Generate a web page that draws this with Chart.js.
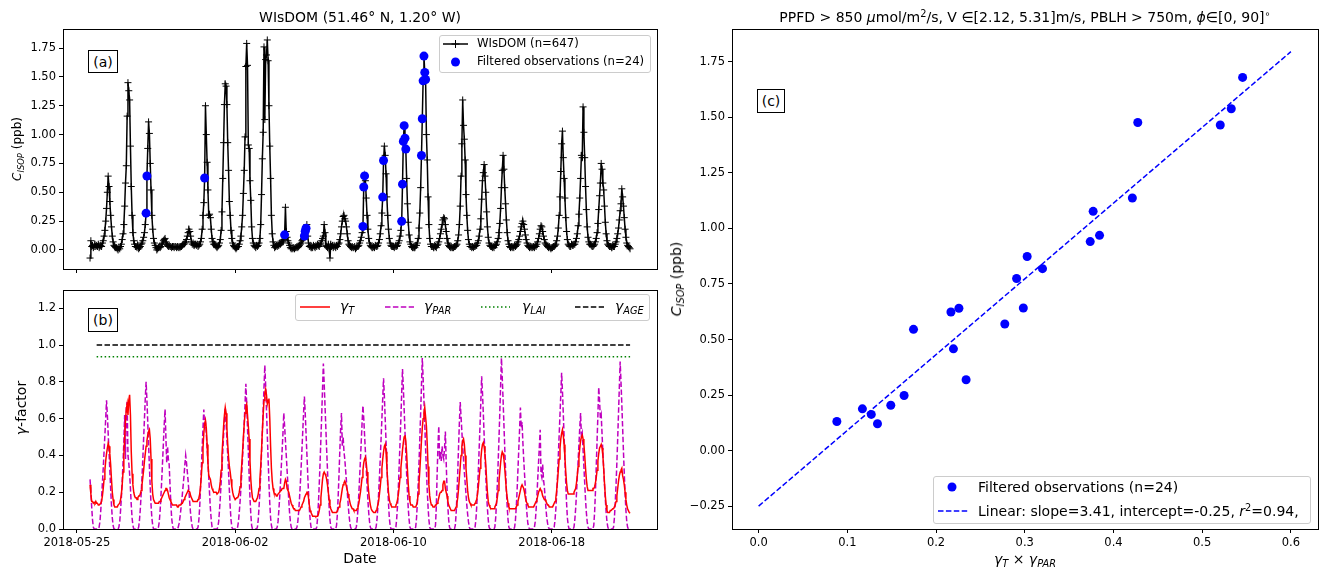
<!DOCTYPE html>
<html>
<head>
<meta charset="utf-8">
<script src="https://cdn.jsdelivr.net/npm/chart.js@4.4.1/dist/chart.umd.min.js"></script>
<style>
  body { margin:0; width:1322px; height:568px; background:#fff; position:relative; overflow:hidden; font-family:"DejaVu Sans", sans-serif; color:#000; }
  canvas { position:absolute; }
  .t { position:absolute; white-space:nowrap; line-height:1; }
  .c { transform:translate(-50%,-50%); }
  .r { transform:translate(-50%,-50%) rotate(-90deg); }
  .t sub { font-size:70%; vertical-align:-0.3em; line-height:0; font-style:italic; }
  .t sup { font-size:70%; vertical-align:0.5em; line-height:0; }
  .box { position:absolute; border:1px solid #000; background:#fff; font-size:14px; display:flex; align-items:center; justify-content:center; box-sizing:border-box; }
  .leg { position:absolute; border:1px solid #ccc; border-radius:3px; background:rgba(255,255,255,0.8); box-sizing:border-box; }
  svg { position:absolute; }
</style>
</head>
<body>
<canvas id="ca" width="670" height="280" style="left:0;top:0"></canvas>
<canvas id="cb" width="670" height="288" style="left:0;top:280px"></canvas>
<canvas id="cc" width="652" height="568" style="left:670px;top:0"></canvas>

<div class="t c" style="left:360px;top:17px;font-size:14px">WIsDOM (51.46° N, 1.20° W)</div>
<div class="t c" style="left:1025px;top:17px;font-size:14px">PPFD &gt; 850 <i>μ</i>mol/m<sup>2</sup>/s, V ∈[2.12, 5.31]m/s, PBLH &gt; 750m, <i>ϕ</i>∈[0, 90]<sup>∘</sup></div>

<div class="t r" style="left:17px;top:149px;font-size:12px"><i>C</i><sub>ISOP</sub> (ppb)</div>
<div class="t r" style="left:21px;top:408px;font-size:14px"><i>γ</i>-factor</div>
<div class="t c" style="left:360px;top:558px;font-size:14px">Date</div>
<div class="t r" style="left:676px;top:279px;font-size:14px"><i>C</i><sub>ISOP</sub> (ppb)</div>
<div class="t c" style="left:1025px;top:559px;font-size:14px"><i>γ</i><sub>T</sub> × <i>γ</i><sub>PAR</sub></div>

<div class="box" style="left:88px;top:50px;width:30px;height:23px">(a)</div>
<div class="box" style="left:88px;top:308px;width:30px;height:24px">(b)</div>
<div class="box" style="left:757px;top:89px;width:28px;height:24px">(c)</div>

<!-- legend (a) -->
<div class="leg" style="left:439px;top:35px;width:212px;height:38px"></div>
<svg style="left:441px;top:37px" width="30" height="14">
  <line x1="2" y1="7" x2="27" y2="7" stroke="#000" stroke-width="1.5"/>
  <line x1="14.5" y1="3" x2="14.5" y2="11" stroke="#000"/>
  <line x1="10.5" y1="7" x2="18.5" y2="7" stroke="#000"/>
</svg>
<div class="t" style="left:477px;top:38px;font-size:11.7px">WIsDOM (n=647)</div>
<svg style="left:441px;top:55px" width="30" height="14"><circle cx="14.5" cy="7" r="4.5" fill="#0000ff"/></svg>
<div class="t" style="left:477px;top:56px;font-size:11.7px">Filtered observations (n=24)</div>

<!-- legend (b) -->
<div class="leg" style="left:295px;top:294px;width:355px;height:27px"></div>
<svg style="left:298px;top:300px" width="34" height="14"><line x1="2" y1="7" x2="32" y2="7" stroke="#ff0000" stroke-width="1.5"/></svg>
<div class="t" style="left:340px;top:299px;font-size:14px"><i>γ</i><sub>T</sub></div>
<svg style="left:383px;top:300px" width="34" height="14"><line x1="2" y1="7" x2="31" y2="7" stroke="#bf00bf" stroke-width="1.5" stroke-dasharray="5.5 2.4"/></svg>
<div class="t" style="left:424px;top:299px;font-size:14px"><i>γ</i><sub>PAR</sub></div>
<svg style="left:479px;top:300px" width="34" height="14"><line x1="2" y1="7" x2="31" y2="7" stroke="#008000" stroke-width="1.5" stroke-dasharray="1.5 2.5"/></svg>
<div class="t" style="left:522px;top:299px;font-size:14px"><i>γ</i><sub>LAI</sub></div>
<svg style="left:573px;top:300px" width="34" height="14"><line x1="2" y1="7" x2="31" y2="7" stroke="#000" stroke-width="1.5" stroke-dasharray="5.5 2.4"/></svg>
<div class="t" style="left:615px;top:299px;font-size:14px"><i>γ</i><sub>AGE</sub></div>

<!-- legend (c) -->
<div class="leg" style="left:933px;top:476px;width:378px;height:48px"></div>
<svg style="left:938px;top:480px" width="34" height="14"><circle cx="14" cy="7" r="4.5" fill="#0000ff"/></svg>
<div class="t" style="left:978px;top:480px;font-size:14px">Filtered observations (n=24)</div>
<svg style="left:936px;top:504px" width="34" height="14"><line x1="2" y1="7" x2="32" y2="7" stroke="#0000ff" stroke-width="1.5" stroke-dasharray="5.5 2.4"/></svg>
<div class="t" style="left:978px;top:504px;font-size:14px">Linear: slope=3.41, intercept=-0.25, <i>r</i><sup>2</sup>=0.94,</div>

<script>
// hourly rows, one per day; first row starts 2018-05-25 16:00, the rest at 00:00
const startHour = 16;

const cIsopRows = [
  [-0.07,0.08,0.03,0.04,0.02,0.03,0.05,0.03],
  [0.04,0.03,0.05,0.02,0.03,0.04,0.03,0.06,0.08,0.12,0.17,0.25,0.36,0.50,0.64,0.55,0.42,0.30,0.20,0.12,0.07,0.04,0.03,0.02],
  [0.02,0.01,0.00,0.02,0.01,0.03,0.05,0.09,0.14,0.22,0.38,0.58,0.73,1.16,1.45,1.38,1.30,0.90,0.55,0.30,0.15,0.08,0.05,0.03],
  [0.03,0.02,0.04,0.01,0.02,0.03,0.05,0.06,0.08,0.11,0.15,0.22,0.319,0.641,0.88,1.11,1.01,0.75,0.52,0.30,0.18,0.10,0.06,0.04],
  [0.02,0.00,0.01,0.02,0.03,0.02,0.03,0.05,0.06,0.08,0.09,0.10,0.07,0.05,0.04,0.03,0.04,0.03,0.03,0.02,0.03,0.03,0.02,0.03],
  [0.03,0.02,0.03,0.02,0.03,0.02,0.03,0.03,0.04,0.05,0.05,0.06,0.07,0.09,0.12,0.15,0.18,0.16,0.12,0.07,0.05,0.06,0.04,0.05],
  [0.05,0.04,0.05,0.03,0.04,0.05,0.07,0.10,0.18,0.30,0.41,0.624,1.25,1.00,0.76,0.52,0.30,0.31,0.28,0.18,0.10,0.07,0.05,0.05],
  [0.04,0.03,0.02,0.03,0.04,0.06,0.09,0.17,0.33,0.62,0.93,1.26,1.44,1.42,1.26,0.93,0.69,0.42,0.30,0.17,0.10,0.06,0.04,0.03],
  [0.02,0.01,0.02,0.03,0.03,0.05,0.08,0.12,0.20,0.30,0.49,0.69,0.98,1.59,1.79,1.60,0.91,0.88,0.60,0.43,0.20,0.10,0.06,0.04],
  [0.03,0.02,0.04,0.03,0.04,0.06,0.10,0.22,0.48,0.79,1.02,1.76,1.13,1.65,1.69,1.82,1.64,1.25,0.90,0.62,0.30,0.14,0.07,0.04],
  [0.02,0.03,0.04,0.03,0.05,0.04,0.06,0.05,0.06,0.08,0.07,0.09,0.131,0.37,0.16,0.11,0.08,0.06,0.04,0.02,0.01,0.02,0.01,0.02],
  [0.01,0.02,0.02,0.03,0.02,0.03,0.04,0.05,0.06,0.08,0.09,0.10,0.121,0.163,0.188,0.22,0.12,0.06,0.03,0.04,0.02,0.03,0.02,0.04],
  [0.03,0.02,0.04,0.03,0.05,0.04,0.03,0.05,0.06,0.08,0.10,0.12,0.22,0.15,0.04,0.03,0.02,0.05,0.01,-0.07,0.05,0.03,0.04,0.02],
  [0.04,0.03,0.02,0.04,0.03,0.05,0.06,0.09,0.14,0.20,0.25,0.29,0.30,0.27,0.25,0.20,0.14,0.08,0.05,0.04,0.03,0.02,0.03,0.02],
  [0.02,0.03,0.01,0.02,0.03,0.03,0.04,0.06,0.08,0.11,0.15,0.204,0.546,0.642,0.60,0.45,0.30,0.18,0.10,0.06,0.04,0.03,0.02,0.02],
  [0.03,0.02,0.04,0.03,0.03,0.04,0.06,0.09,0.14,0.21,0.32,0.458,0.775,0.90,0.82,0.66,0.46,0.30,0.18,0.10,0.06,0.04,0.03,0.03],
  [0.03,0.02,0.03,0.04,0.03,0.04,0.06,0.08,0.12,0.17,0.248,0.570,0.941,1.077,0.969,0.874,0.62,0.40,0.24,0.13,0.07,0.05,0.03,0.02],
  [0.02,0.03,0.02,0.04,0.04,0.06,0.10,0.19,0.32,0.54,0.819,1.137,1.466,1.680,1.539,1.477,1.00,0.78,0.46,0.22,0.10,0.05,0.03,0.03],
  [0.03,0.02,0.04,0.03,0.02,0.04,0.05,0.07,0.10,0.14,0.18,0.22,0.26,0.28,0.27,0.22,0.16,0.10,0.06,0.04,0.03,0.02,0.03,0.02],
  [0.02,0.02,0.03,0.03,0.04,0.05,0.08,0.13,0.22,0.38,0.64,0.92,1.30,1.08,0.96,0.78,0.48,0.30,0.17,0.09,0.05,0.03,0.03,0.02],
  [0.03,0.02,0.03,0.03,0.04,0.04,0.06,0.08,0.12,0.18,0.27,0.44,0.60,0.67,0.74,0.64,0.50,0.33,0.20,0.11,0.06,0.04,0.03,0.03],
  [0.02,0.03,0.02,0.04,0.04,0.05,0.07,0.10,0.15,0.23,0.36,0.54,0.69,0.82,0.70,0.54,0.40,0.26,0.15,0.08,0.05,0.03,0.02,0.03],
  [0.02,0.03,0.02,0.04,0.03,0.04,0.05,0.07,0.09,0.12,0.16,0.20,0.23,0.25,0.22,0.18,0.13,0.09,0.06,0.04,0.03,0.02,0.03,0.02],
  [0.03,0.02,0.03,0.02,0.04,0.03,0.05,0.07,0.10,0.14,0.18,0.21,0.20,0.16,0.12,0.09,0.06,0.05,0.04,0.03,0.02,0.03,0.02,0.01],
  [0.02,0.02,0.03,0.03,0.04,0.05,0.08,0.12,0.19,0.30,0.46,0.68,0.92,1.03,0.80,0.62,0.45,0.28,0.16,0.09,0.05,0.04,0.03,0.03],
  [0.05,0.04,0.04,0.05,0.05,0.07,0.10,0.14,0.21,0.31,0.45,0.62,0.82,0.80,1.24,1.02,0.80,0.55,0.35,0.20,0.11,0.07,0.05,0.05],
  [0.04,0.03,0.03,0.04,0.05,0.07,0.10,0.15,0.23,0.35,0.47,0.58,0.75,0.70,0.58,0.52,0.38,0.24,0.14,0.08,0.05,0.04,0.03,0.03],
  [0.03,0.02,0.04,0.03,0.03,0.05,0.07,0.10,0.14,0.19,0.26,0.34,0.40,0.53,0.46,0.38,0.28,0.18,0.11,0.06,0.04,0.03,0.02,0.01]
];

const gammaTRows = [
  [0.24,0.19,0.15,0.15,0.14,0.145,0.14,0.15],
  [0.14,0.14,0.13,0.13,0.13,0.14,0.15,0.18,0.22,0.27,0.32,0.37,0.41,0.44,0.466,0.45,0.41,0.35,0.27,0.20,0.16,0.13,0.12,0.12],
  [0.12,0.12,0.13,0.13,0.14,0.16,0.19,0.24,0.31,0.40,0.50,0.59,0.65,0.68,0.62,0.70,0.73,0.62,0.42,0.30,0.24,0.20,0.18,0.17],
  [0.17,0.16,0.17,0.18,0.18,0.19,0.21,0.24,0.28,0.32,0.37,0.41,0.45,0.48,0.51,0.53,0.54,0.49,0.38,0.26,0.19,0.16,0.15,0.14],
  [0.14,0.14,0.14,0.14,0.15,0.15,0.16,0.17,0.18,0.19,0.20,0.21,0.22,0.22,0.21,0.19,0.17,0.16,0.15,0.14,0.13,0.13,0.13,0.13],
  [0.13,0.13,0.12,0.12,0.13,0.13,0.13,0.14,0.14,0.15,0.16,0.17,0.18,0.19,0.20,0.21,0.21,0.20,0.18,0.17,0.16,0.15,0.15,0.15],
  [0.15,0.15,0.15,0.16,0.17,0.19,0.23,0.29,0.36,0.44,0.52,0.57,0.59,0.55,0.46,0.36,0.29,0.28,0.27,0.24,0.22,0.21,0.20,0.20],
  [0.20,0.20,0.19,0.19,0.20,0.22,0.26,0.32,0.40,0.48,0.56,0.62,0.66,0.63,0.55,0.46,0.39,0.34,0.31,0.27,0.23,0.20,0.18,0.17],
  [0.16,0.16,0.17,0.17,0.18,0.20,0.23,0.28,0.35,0.42,0.50,0.57,0.63,0.67,0.68,0.62,0.56,0.49,0.37,0.27,0.21,0.17,0.16,0.15],
  [0.15,0.15,0.16,0.17,0.19,0.22,0.27,0.34,0.43,0.53,0.62,0.70,0.74,0.76,0.73,0.68,0.70,0.71,0.60,0.45,0.33,0.26,0.22,0.20],
  [0.19,0.19,0.18,0.18,0.19,0.19,0.20,0.21,0.21,0.22,0.22,0.22,0.25,0.27,0.26,0.22,0.21,0.20,0.18,0.16,0.14,0.13,0.12,0.11],
  [0.11,0.10,0.10,0.10,0.10,0.10,0.10,0.11,0.12,0.13,0.14,0.15,0.17,0.18,0.19,0.20,0.20,0.17,0.13,0.10,0.09,0.08,0.07,0.07],
  [0.07,0.07,0.066,0.07,0.07,0.08,0.10,0.13,0.17,0.22,0.27,0.30,0.31,0.30,0.29,0.27,0.24,0.20,0.16,0.13,0.11,0.10,0.09,0.09],
  [0.09,0.09,0.09,0.09,0.10,0.11,0.12,0.14,0.16,0.19,0.22,0.24,0.25,0.26,0.25,0.23,0.21,0.19,0.17,0.15,0.13,0.12,0.11,0.11],
  [0.10,0.10,0.10,0.10,0.11,0.12,0.14,0.17,0.20,0.24,0.28,0.32,0.36,0.38,0.39,0.36,0.31,0.25,0.20,0.16,0.13,0.11,0.10,0.10],
  [0.09,0.09,0.09,0.10,0.11,0.13,0.15,0.19,0.23,0.28,0.33,0.38,0.42,0.45,0.46,0.42,0.34,0.26,0.20,0.16,0.14,0.13,0.12,0.12],
  [0.12,0.12,0.12,0.13,0.14,0.16,0.19,0.23,0.28,0.33,0.38,0.43,0.47,0.50,0.51,0.48,0.41,0.32,0.24,0.18,0.15,0.13,0.13,0.13],
  [0.12,0.12,0.12,0.12,0.13,0.15,0.19,0.25,0.32,0.40,0.48,0.55,0.60,0.63,0.66,0.61,0.56,0.46,0.34,0.24,0.18,0.15,0.13,0.13],
  [0.12,0.12,0.12,0.13,0.13,0.14,0.15,0.17,0.19,0.20,0.20,0.21,0.24,0.26,0.26,0.22,0.20,0.18,0.15,0.13,0.12,0.11,0.10,0.10],
  [0.10,0.10,0.10,0.11,0.12,0.14,0.17,0.22,0.28,0.34,0.40,0.45,0.48,0.49,0.46,0.40,0.33,0.27,0.21,0.17,0.15,0.14,0.13,0.13],
  [0.13,0.13,0.13,0.14,0.15,0.16,0.19,0.23,0.28,0.33,0.38,0.43,0.46,0.47,0.45,0.41,0.35,0.27,0.20,0.15,0.13,0.12,0.11,0.11],
  [0.11,0.11,0.11,0.12,0.13,0.14,0.17,0.21,0.26,0.31,0.36,0.40,0.42,0.41,0.38,0.33,0.27,0.21,0.17,0.14,0.12,0.11,0.11,0.11],
  [0.11,0.11,0.11,0.11,0.11,0.12,0.13,0.15,0.17,0.19,0.21,0.23,0.24,0.24,0.22,0.20,0.17,0.15,0.14,0.13,0.12,0.12,0.12,0.12],
  [0.12,0.12,0.12,0.13,0.14,0.15,0.16,0.18,0.20,0.21,0.22,0.21,0.20,0.18,0.17,0.16,0.16,0.15,0.14,0.13,0.13,0.12,0.12,0.12],
  [0.12,0.12,0.13,0.14,0.15,0.17,0.21,0.26,0.32,0.38,0.44,0.49,0.52,0.54,0.51,0.46,0.39,0.31,0.25,0.21,0.19,0.19,0.19,0.19],
  [0.19,0.19,0.19,0.20,0.21,0.22,0.25,0.29,0.34,0.39,0.44,0.48,0.50,0.51,0.49,0.46,0.40,0.33,0.27,0.23,0.21,0.21,0.21,0.21],
  [0.21,0.21,0.22,0.22,0.23,0.25,0.28,0.32,0.37,0.41,0.44,0.45,0.46,0.44,0.40,0.33,0.25,0.18,0.13,0.10,0.09,0.09,0.09,0.10],
  [0.10,0.10,0.11,0.11,0.12,0.13,0.15,0.18,0.22,0.26,0.29,0.31,0.32,0.33,0.29,0.27,0.24,0.20,0.16,0.13,0.11,0.10,0.09,0.085]
];

const gammaParRows = [
  [0.27,0.20,0.12,0.05,0.01,0,0,0],
  [0,0,0,0.01,0.04,0.10,0.17,0.25,0.33,0.42,0.51,0.60,0.70,0.62,0.52,0.42,0.32,0.22,0.13,0.06,0.02,0,0,0],
  [0,0,0,0.01,0.04,0.10,0.17,0.26,0.36,0.47,0.62,0.38,0.66,0.69,0.40,0.36,0.30,0.22,0.13,0.06,0.02,0,0,0],
  [0,0,0,0.01,0.05,0.11,0.19,0.28,0.38,0.49,0.60,0.71,0.80,0.70,0.58,0.46,0.34,0.23,0.13,0.06,0.02,0,0,0],
  [0,0,0,0.01,0.04,0.10,0.18,0.27,0.37,0.47,0.57,0.65,0.50,0.36,0.45,0.38,0.35,0.24,0.14,0.06,0.02,0,0,0],
  [0,0,0,0.01,0.03,0.06,0.10,0.14,0.19,0.24,0.29,0.35,0.40,0.36,0.31,0.26,0.20,0.14,0.08,0.04,0.01,0,0,0],
  [0,0,0,0.01,0.05,0.12,0.22,0.33,0.44,0.55,0.65,0.55,0.58,0.52,0.44,0.36,0.28,0.19,0.11,0.05,0.01,0,0,0],
  [0,0,0,0.01,0.04,0.10,0.17,0.25,0.33,0.42,0.51,0.59,0.66,0.58,0.49,0.40,0.31,0.21,0.12,0.05,0.01,0,0,0],
  [0,0,0,0.01,0.04,0.09,0.15,0.22,0.30,0.39,0.48,0.58,0.68,0.79,0.68,0.55,0.42,0.29,0.17,0.08,0.02,0,0,0],
  [0,0,0,0.01,0.05,0.12,0.20,0.30,0.41,0.53,0.65,0.77,0.89,0.78,0.65,0.51,0.38,0.25,0.14,0.06,0.02,0,0,0],
  [0,0,0,0.01,0.04,0.10,0.17,0.25,0.34,0.43,0.52,0.63,0.56,0.48,0.40,0.32,0.24,0.16,0.09,0.04,0.01,0,0,0],
  [0,0,0,0.01,0.04,0.09,0.16,0.24,0.33,0.43,0.53,0.63,0.72,0.63,0.52,0.41,0.30,0.20,0.11,0.05,0.01,0,0,0],
  [0,0,0,0.01,0.06,0.14,0.24,0.36,0.49,0.62,0.76,0.90,0.79,0.67,0.55,0.43,0.32,0.21,0.12,0.05,0.01,0,0,0],
  [0,0,0,0.02,0.08,0.18,0.30,0.43,0.55,0.63,0.45,0.50,0.42,0.38,0.32,0.26,0.20,0.14,0.08,0.04,0.01,0,0,0],
  [0,0,0,0.01,0.05,0.11,0.19,0.28,0.38,0.48,0.58,0.67,0.60,0.51,0.42,0.33,0.24,0.16,0.09,0.04,0.01,0,0,0],
  [0,0,0,0.01,0.05,0.11,0.19,0.28,0.38,0.49,0.60,0.71,0.82,0.72,0.60,0.48,0.36,0.24,0.14,0.06,0.02,0,0,0],
  [0,0,0,0.01,0.06,0.13,0.23,0.35,0.47,0.60,0.74,0.87,0.77,0.65,0.53,0.41,0.30,0.20,0.11,0.05,0.01,0,0,0],
  [0,0,0,0.01,0.06,0.14,0.24,0.36,0.49,0.63,0.78,0.93,0.82,0.70,0.57,0.44,0.32,0.21,0.12,0.05,0.01,0,0,0],
  [0,0,0,0.02,0.12,0.30,0.45,0.56,0.38,0.42,0.37,0.45,0.40,0.38,0.44,0.53,0.36,0.22,0.12,0.05,0.01,0,0,0],
  [0,0,0,0.02,0.08,0.18,0.31,0.45,0.58,0.69,0.61,0.53,0.45,0.38,0.31,0.25,0.19,0.13,0.08,0.04,0.01,0,0,0],
  [0,0,0,0.01,0.05,0.12,0.21,0.32,0.44,0.56,0.69,0.83,0.74,0.63,0.51,0.40,0.29,0.19,0.11,0.05,0.01,0,0,0],
  [0,0,0,0.01,0.06,0.14,0.24,0.36,0.49,0.63,0.78,0.93,0.82,0.70,0.57,0.44,0.32,0.21,0.12,0.05,0.01,0,0,0],
  [0,0,0,0.01,0.05,0.12,0.21,0.32,0.43,0.54,0.66,0.55,0.58,0.47,0.38,0.30,0.22,0.14,0.08,0.03,0.01,0,0,0],
  [0,0,0,0.01,0.04,0.10,0.18,0.27,0.36,0.45,0.54,0.30,0.28,0.35,0.27,0.23,0.17,0.11,0.06,0.03,0.01,0,0,0],
  [0,0,0,0.01,0.05,0.11,0.19,0.29,0.40,0.51,0.62,0.73,0.85,0.75,0.63,0.50,0.37,0.25,0.14,0.06,0.02,0,0,0],
  [0,0,0,0.01,0.05,0.11,0.19,0.28,0.37,0.46,0.55,0.63,0.50,0.52,0.43,0.34,0.25,0.16,0.09,0.04,0.01,0,0,0],
  [0,0,0,0.02,0.09,0.20,0.34,0.48,0.62,0.77,0.70,0.60,0.62,0.52,0.42,0.33,0.24,0.16,0.09,0.04,0.01,0,0,0],
  [0,0,0,0.01,0.06,0.14,0.24,0.36,0.49,0.63,0.77,0.91,0.80,0.68,0.55,0.42,0.30,0.19,0.10,0.04,0.01,0,0,0]
];

// constant factors, drawn from first to last day
const gammaLai = 0.937;
const gammaAge = 1.0;
const gammaConstX = [1.0, 27.96];

// filtered observations: hour since 2018-05-25 00:00, C_ISOP, gammaT*gammaPAR
const filtHour  = [84, 85, 155, 252, 276, 277, 278, 347, 348, 349, 371, 372, 394, 395, 396, 397, 398, 399, 418, 419, 420, 421, 422, 423];
const filtC     = [0.319, 0.641, 0.624, 0.131, 0.121, 0.163, 0.188, 0.204, 0.546, 0.642, 0.458, 0.775, 0.248, 0.570, 0.941, 1.077, 0.969, 0.874, 0.819, 1.137, 1.466, 1.680, 1.539, 1.477];
const filtGamma = [0.2339, 0.2258, 0.2168, 0.0882, 0.134, 0.127, 0.117, 0.149, 0.1746, 0.2984, 0.2196, 0.2908, 0.164, 0.2775, 0.3738, 0.3771, 0.3843, 0.3027, 0.320, 0.4213, 0.5204, 0.5456, 0.5328, 0.4274];

// linear fit line end points
const fitX = [0, 0.6];
const fitY = [-0.25, 1.796];

// ticks
const dateTickPos = [0, 8, 16, 24];
const dateTickLabels = ['2018-05-25', '2018-06-02', '2018-06-10', '2018-06-18'];
const aTicks = [0, 0.25, 0.5, 0.75, 1.0, 1.25, 1.5, 1.75];
const bTicks = [0, 0.2, 0.4, 0.6, 0.8, 1.0, 1.2];
const cXTicks = [0, 0.1, 0.2, 0.3, 0.4, 0.5, 0.6];
const cYTicks = [-0.25, 0, 0.25, 0.5, 0.75, 1.0, 1.25, 1.5, 1.75];

function toPoints(rows) {
  const pts = [];
  rows.forEach((row, d) => {
    const h0 = d === 0 ? startHour : 0;
    row.forEach((v, k) => pts.push({ x: d + (h0 + k) / 24, y: v }));
  });
  return pts;
}

Chart.defaults.font.family = 'DejaVu Sans';
Chart.defaults.color = '#000';

const frame = {
  id: 'frame',
  afterDraw(chart) {
    const a = chart.chartArea, c = chart.ctx;
    c.save();
    c.strokeStyle = '#000';
    c.lineWidth = 1;
    c.strokeRect(Math.round(a.left) + 0.5, Math.round(a.top) + 0.5, Math.round(a.right - a.left), Math.round(a.bottom - a.top));
    c.restore();
  }
};

const tickGrid = { display: true, drawOnChartArea: false, drawTicks: true, tickLength: 4, color: '#000', lineWidth: 1 };
const fmt = (v, d) => (v < 0 ? '\u2212' : '') + Math.abs(v).toFixed(d);

function axis(ticksArr, extra) {
  return Object.assign({
    type: 'linear',
    grid: tickGrid,
    border: { display: false },
    afterBuildTicks: s => { s.ticks = ticksArr.map(v => ({ value: v })); },
    ticks: { autoSkip: false, maxRotation: 0, font: { size: 11.5 }, color: '#000', padding: 3 }
  }, extra);
}

const commonOpts = {
  responsive: false,
  animation: false,
  plugins: { legend: { display: false }, tooltip: { enabled: false } }
};

// panel (a)
new Chart(document.getElementById('ca'), {
  type: 'scatter',
  data: {
    datasets: [
      {
        data: filtHour.map((h, i) => ({ x: h / 24, y: filtC[i] })),
        backgroundColor: '#0000ff', borderColor: '#0000ff',
        pointRadius: 4.5, pointBorderWidth: 0, showLine: false
      },
      {
        data: toPoints(cIsopRows),
        borderColor: '#000', backgroundColor: '#000', borderWidth: 1.5,
        showLine: true, tension: 0,
        pointStyle: 'cross', pointRadius: 3.5, pointBorderWidth: 1, pointBorderColor: '#000'
      }
    ]
  },
  options: Object.assign({}, commonOpts, {
    layout: { padding: { top: 29, right: 13, left: 0, bottom: 0 } },
    scales: {
      x: axis(dateTickPos, { min: -0.70, max: 29.32, ticks: { display: false }, afterFit: s => { s.height = 11; } }),
      y: axis(aTicks, {
        min: -0.165, max: 1.915, afterFit: s => { s.width = 63; },
        ticks: { autoSkip: false, font: { size: 11.5 }, color: '#000', padding: 3, callback: v => fmt(v, 2) }
      })
    }
  }),
  plugins: [frame]
});

// panel (b)
new Chart(document.getElementById('cb'), {
  type: 'scatter',
  data: {
    datasets: [
      { data: toPoints(gammaTRows), borderColor: '#ff0000', borderWidth: 1.5, showLine: true, pointRadius: 0, tension: 0 },
      { data: toPoints(gammaParRows), borderColor: '#bf00bf', borderWidth: 1.5, borderDash: [5.5, 2.4], showLine: true, pointRadius: 0, tension: 0 },
      { data: gammaConstX.map(x => ({ x: x, y: gammaLai })), borderColor: '#008000', borderWidth: 1.5, borderDash: [1.5, 2.5], showLine: true, pointRadius: 0 },
      { data: gammaConstX.map(x => ({ x: x, y: gammaAge })), borderColor: '#000', borderWidth: 1.5, borderDash: [5.5, 2.4], showLine: true, pointRadius: 0 }
    ]
  },
  options: Object.assign({}, commonOpts, {
    layout: { padding: { top: 7, right: 13, left: 0, bottom: 0 } },
    scales: {
      x: axis(dateTickPos, {
        min: -0.70, max: 29.32, afterFit: s => { s.height = 39; },
        ticks: { autoSkip: false, maxRotation: 0, font: { size: 11.5 }, color: '#000', padding: 3, callback: (v, i) => dateTickLabels[i] }
      }),
      y: axis(bTicks, {
        min: 0, max: 1.3, afterFit: s => { s.width = 63; },
        ticks: { autoSkip: false, font: { size: 11.5 }, color: '#000', padding: 3, callback: v => fmt(v, 1) }
      })
    }
  }),
  plugins: [frame]
});

// panel (c)
new Chart(document.getElementById('cc'), {
  type: 'scatter',
  data: {
    datasets: [
      {
        data: filtGamma.map((g, i) => ({ x: g, y: filtC[i] })),
        backgroundColor: '#0000ff', borderColor: '#0000ff', pointRadius: 4.5, pointBorderWidth: 0
      },
      {
        data: fitX.map((x, i) => ({ x: x, y: fitY[i] })),
        borderColor: '#0000ff', borderWidth: 1.5, borderDash: [5.5, 2.4], showLine: true, pointRadius: 0
      }
    ]
  },
  options: Object.assign({}, commonOpts, {
    layout: { padding: { top: 29, right: 4, left: 0, bottom: 0 } },
    scales: {
      x: axis(cXTicks, {
        min: -0.03, max: 0.63, afterFit: s => { s.height = 39; },
        ticks: { autoSkip: false, maxRotation: 0, font: { size: 11.5 }, color: '#000', padding: 3, callback: v => fmt(v, 1) }
      }),
      y: axis(cYTicks, {
        min: -0.353, max: 1.898, afterFit: s => { s.width = 62; },
        ticks: { autoSkip: false, font: { size: 11.5 }, color: '#000', padding: 3, callback: v => fmt(v, 2) }
      })
    }
  }),
  plugins: [frame]
});
</script>
</body>
</html>
